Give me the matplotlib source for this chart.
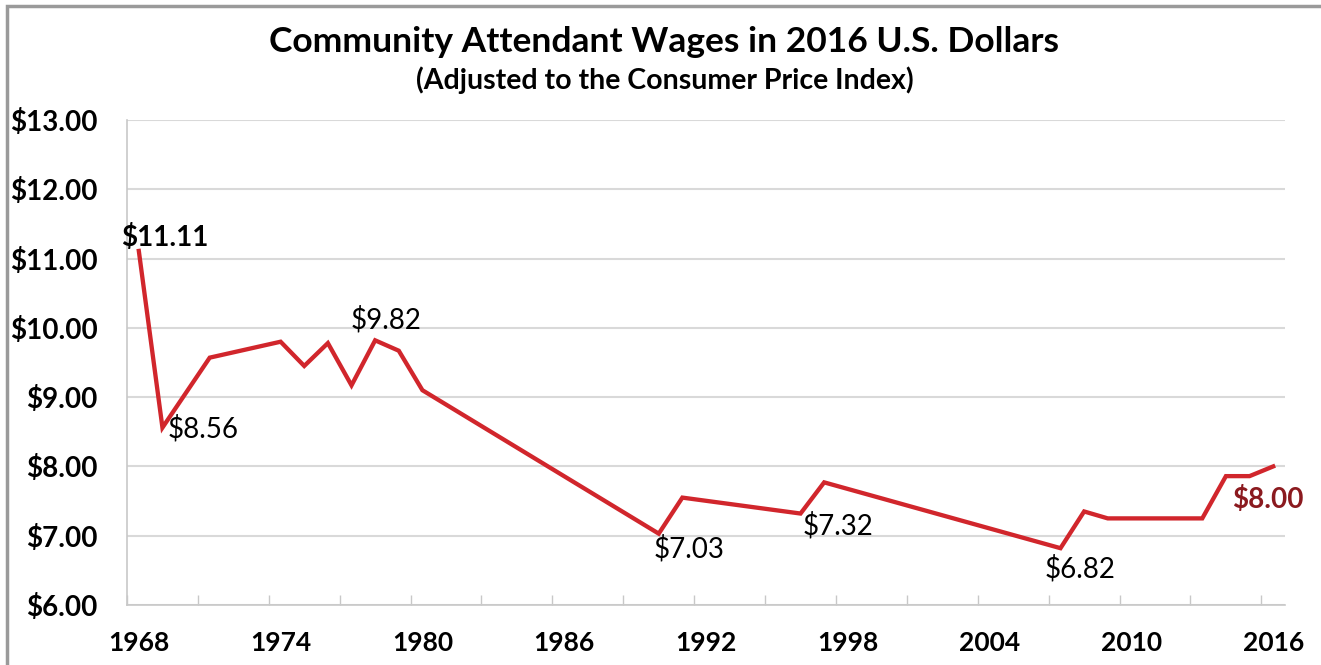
import matplotlib
matplotlib.use("Agg")
import matplotlib.pyplot as plt
from matplotlib.patches import Rectangle
from matplotlib.ticker import FixedLocator, FuncFormatter

plt.rcParams['font.family'] = ['Lato', 'DejaVu Sans']

years = [1968, 1969, 1971, 1974, 1975, 1976, 1977, 1978, 1979, 1980,
         1990, 1991, 1996, 1997, 2007, 2008, 2009, 2013, 2014, 2015, 2016]
wages = [11.11, 8.56, 9.57, 9.80, 9.45, 9.78, 9.17, 9.82, 9.67, 9.10,
         7.03, 7.55, 7.32, 7.77, 6.82, 7.35, 7.25, 7.25, 7.86, 7.86, 8.00]

# labelled points: (year, text, offset in points, bold, colour)
callouts = [
    (1968, "$11.11", (19, 10), True, "black"),
    (1969, "$8.56", (29, -1), False, "black"),
    (1978, "$9.82", (8, 15), False, "black"),
    (1990, "$7.03", (22, -11), False, "black"),
    (1996, "$7.32", (27, -9), False, "black"),
    (2007, "$6.82", (14, -15), False, "black"),
    (2016, "$8.00", (-4, -24), True, "#8b1a1f"),
]

label_years = list(range(1968, 2017, 6))

fig = plt.figure(figsize=(13.21, 6.65), dpi=100)
ax = fig.add_axes([127 / 1321, 1 - 605 / 665, 1158 / 1321, 485 / 665])

fig.patches.append(Rectangle((7 / 1321, -0.1), 1.2, 1 - 6 / 665 + 0.1,
                             transform=fig.transFigure, fill=False,
                             edgecolor="#9a9a9a", linewidth=2.5))

ax.plot(years, wages, color="#d1262c", linewidth=3.1, solid_joinstyle="miter")

for yr, txt, off, bold, col in callouts:
    ax.annotate(txt, (yr, wages[years.index(yr)]), xytext=off,
                textcoords="offset points", ha="center", va="center",
                fontsize=20, fontweight="bold" if bold else "normal", color=col)

ax.set_xlim(1967.5, 2016.5)
ax.set_ylim(6, 13)
ax.set_yticks(range(6, 14))
ax.yaxis.set_major_formatter(FuncFormatter(lambda v, p: "${:.2f}".format(v)))
ax.grid(axis="y", color="#d9d9d9", linewidth=1.5)
ax.set_axisbelow(True)

ax.set_xticks(label_years)
ax.xaxis.set_minor_locator(FixedLocator([1967.5 + 3 * i for i in range(17)]))
ax.tick_params(axis="x", which="major", length=0, pad=19)
ax.tick_params(axis="x", which="minor", direction="in", length=7,
               color="#c8c8c8", width=1)
ax.tick_params(axis="y", length=0, pad=21)
for lab in ax.get_xticklabels():
    lab.set_fontweight("bold")
    lab.set_fontsize(19)
for lab in ax.get_yticklabels():
    lab.set_fontweight("bold")
    lab.set_fontsize(20)

for s in ["top", "right"]:
    ax.spines[s].set_visible(False)
for s in ["left", "bottom"]:
    ax.spines[s].set_color("#c8c8c8")
    ax.spines[s].set_linewidth(1.2)

fig.text(0.503, 0.937, "Community Attendant Wages in 2016 U.S. Dollars",
         ha="center", va="center", fontsize=25.5, fontweight="bold")
fig.text(0.503, 0.879, "(Adjusted to the Consumer Price Index)",
         ha="center", va="center", fontsize=20.5, fontweight="bold")

fig.savefig("out.png", dpi=100)
